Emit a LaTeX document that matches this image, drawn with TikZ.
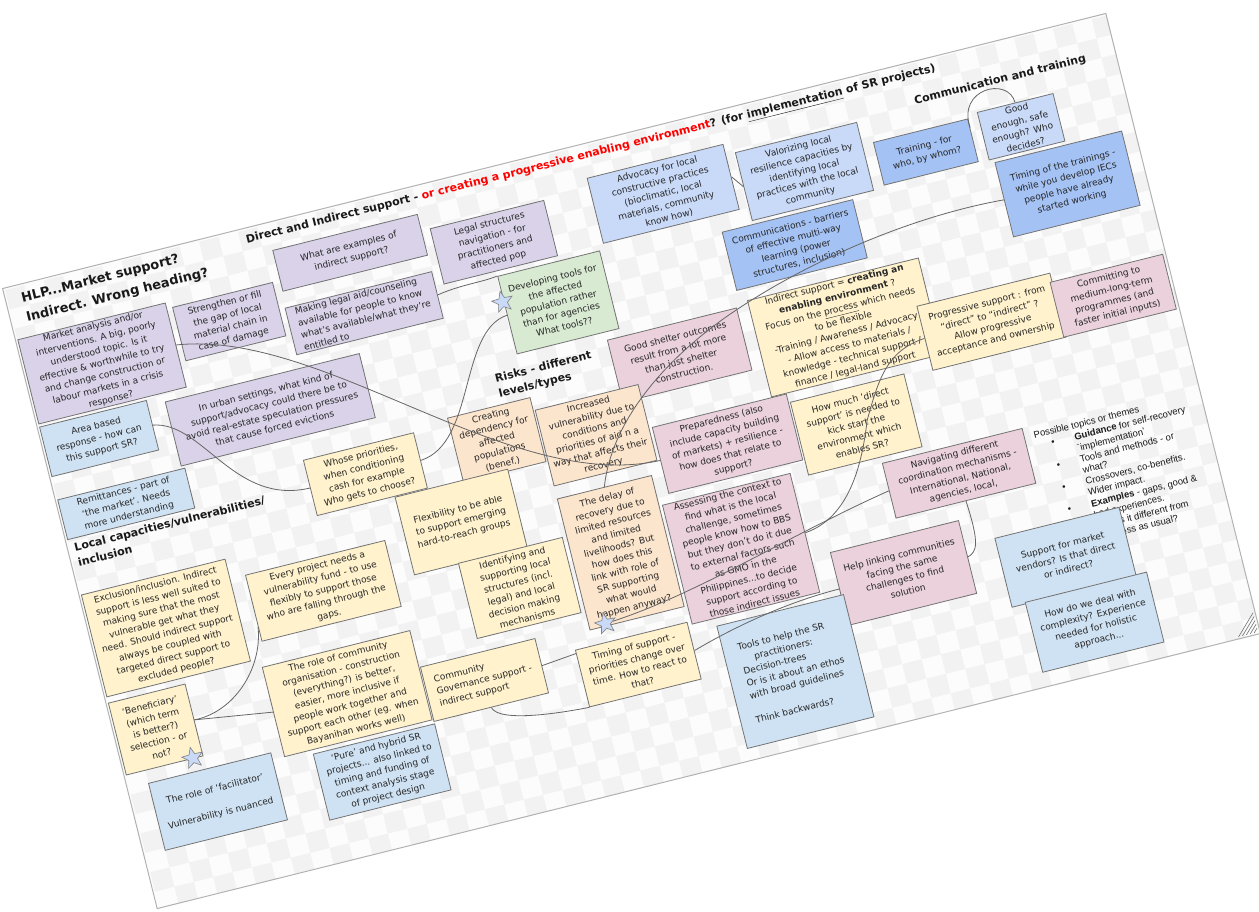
\documentclass[tikz,border=0pt]{standalone}
\usepackage{fontspec}
\setmainfont{DejaVu Sans}
\newfontfamily\topicfont{Liberation Sans}
\usetikzlibrary{shapes.geometric}
\definecolor{noteLilac}{HTML}{D9D2E9}
\definecolor{noteSky}{HTML}{CFE2F3}
\definecolor{noteBlue}{HTML}{C9DAF8}
\definecolor{noteDeep}{HTML}{A4C2F4}
\definecolor{notePink}{HTML}{EAD1DC}
\definecolor{noteSand}{HTML}{FFF2CC}
\definecolor{notePeach}{HTML}{FCE5CD}
\definecolor{noteMint}{HTML}{D9EAD3}

\begin{document}
\begin{tikzpicture}[x=1pt,y=-1pt]
	\tikzstyle{note} = [rectangle, anchor=north west, transform shape, draw=black!55, line width=0.8pt, inner sep=1.5pt, align=center, text=black!85, font=\fontsize{9}{12.5}\selectfont]
	\tikzstyle{lilac} = [note, fill=noteLilac]
	\tikzstyle{sky} = [note, fill=noteSky]
	\tikzstyle{blue} = [note, fill=noteBlue]
	\tikzstyle{deep} = [note, fill=noteDeep]
	\tikzstyle{pink} = [note, fill=notePink]
	\tikzstyle{sand} = [note, fill=noteSand]
	\tikzstyle{peach} = [note, fill=notePeach]
	\tikzstyle{mint} = [note, fill=noteMint]
	\tikzstyle{heading} = [anchor=north west, transform shape, inner sep=0pt, align=left, text=black!90]
	\tikzstyle{starMark} = [star, star points=5, star point ratio=2.3, minimum size=22pt, inner sep=0pt, fill=noteBlue, draw=black!50, line width=0.6pt, transform shape]
	\tikzstyle{link} = [draw=black!60, line width=0.8pt]
	\useasboundingbox (0,0) rectangle (1259,911);
	\fill[white] (0,0) rectangle (1259,911);
	\begin{scope}[shift={(5,290)}, rotate=14]
	% board
	\fill[black!1] (-2,-2) rectangle (1135,637);
	\begin{scope}
		\clip (-2,-2) rectangle (1135,637);
		\foreach \i in {0,40,...,1120}
			\foreach \j in {0,40,...,620}
				\fill[black!5] (\i,\j) rectangle ++(20,20) (\i+20,\j+20) rectangle ++(20,20);
	\end{scope}
	\draw[black!30, line width=1pt] (-2,-2) rectangle (1135,637);
	\foreach \k in {4,8,...,20}
		\draw[black!55, line width=0.6pt] (1133-\k,635) -- (1133,635-\k);

	% headings
	\node[heading, font=\fontsize{13}{20}\selectfont\bfseries] (hlpHeading) at (14,6) {HLP...Market support?\\Indirect. Wrong heading?};
	\node[heading, anchor=base west, font=\fontsize{11}{13}\selectfont\bfseries] (mainHeading) at (246,13) {Direct and Indirect support - \textcolor{red}{or creating a progressive enabling environment}? (for \underline{implementation} of SR projects)};
	\node[heading, anchor=base west, font=\fontsize{11}{13}\selectfont\bfseries] (commHeading) at (928,40) {Communication and training};
	\node[heading, font=\fontsize{11}{15.5}\selectfont\bfseries] (risksHeading) at (454,200) {Risks - different\\levels/types};
	\node[heading, font=\fontsize{11}{15.5}\selectfont\bfseries] (localHeading) at (5,262) {Local capacities/vulnerabilities/\\inclusion};
	\node[heading, font=\topicfont\fontsize{9.5}{11.5}\selectfont] (topicList) at (963,386) {Possible topics or themes\\
		\hspace*{15pt}\makebox[24pt][l]{\textbullet}\textbf{Guidance} for self-recovery\\
		\hspace*{39pt}`implementation'\\
		\hspace*{15pt}\makebox[24pt][l]{\textbullet}Tools and methods - or\\
		\hspace*{39pt}what?\\
		\hspace*{15pt}\makebox[24pt][l]{\textbullet}Crossovers, co-benefits.\\
		\hspace*{39pt}Wider impact.\\
		\hspace*{15pt}\makebox[24pt][l]{\textbullet}\textbf{Examples} - gaps, good \&\\
		\hspace*{39pt}bad experiences.\\
		\hspace*{39pt}How is it different from\\
		\hspace*{39pt}business as usual?};

	% market and legal notes
	\node[lilac, minimum width=152, minimum height=84] (marketAnalysis) at (0,51) {Market analysis and/or\\interventions. A big, poorly\\understood topic. Is it\\effective \& worthwhile to try\\and change construction or\\labour markets in a crisis\\response?};
	\node[lilac, minimum width=103, minimum height=55] (strengthenGap) at (158,57) {Strengthen or fill\\the gap of local\\material chain in\\case of damage};
	\node[lilac, minimum width=149, minimum height=42] (indirectExamples) at (269,26) {What are examples of\\indirect support?};
	\node[lilac, minimum width=117, minimum height=57] (legalStructures) at (427,43) {Legal structures\\navigation - for\\practitioners and\\affected pop};
	\node[lilac, minimum width=151, minimum height=48, align=left] (legalAid) at (267,85) {Making legal aid/counseling\\available for people to know\\what's available/what they're\\entitled to};
	\node[lilac, minimum width=200, minimum height=66] (urbanEvictions) at (128,147) {In urban settings, what kind of\\support/advocacy could there be to\\avoid real-estate speculation pressures\\that cause forced evictions};
	\node[mint, minimum width=105, minimum height=80] (developingTools) at (481,105.5) {Developing tools for\\the affected\\population rather\\than for agencies\\What tools??};
	\node[sky, minimum width=110, minimum height=51] (areaBased) at (0,141) {Area based\\response - how can\\this support SR?};
	\node[sky, minimum width=131, minimum height=41] (remittances) at (0,216) {Remittances - part of\\`the market'. Needs\\more understanding};

	% communication and training
	\node[blue, minimum width=140, minimum height=67] (advocacy) at (591.5,32) {Advocacy for local\\constructive practices\\(bioclimatic, local\\materials, community\\know how)};
	\node[blue, minimum width=125, minimum height=70] (valorizing) at (741.5,43) {Valorizing local\\resilience capacities by\\identifying local\\practices with the local\\community};
	\node[deep, minimum width=134.5, minimum height=60] (communications) at (709.5,117) {Communications - barriers\\of effective multi-way\\learning (power\\structures, inclusion)};
	\node[deep, minimum width=97, minimum height=44] (training) at (878,66.5) {Training - for\\who, by whom?};
	\node[blue, minimum width=78, minimum height=49] (goodEnough) at (986,62.5) {Good\\enough, safe\\enough? Who\\decides?};
	\node[deep, minimum width=130.5, minimum height=76.5] (trainingTiming) at (991,115.5) {Timing of the trainings -\\while you develop IECs\\people have already\\started working};

	% enabling environment
	\node[sand, minimum width=176, minimum height=94] (enablingEnv) at (717.5,189.5) {Indirect support = \textbf{creating an}\\\textbf{enabling environment} ?\\Focus on the \underline{process} which needs\\to be flexible\\-Training / Awareness / Advocacy\\- Allow access to materials /\\knowledge - technical support /\\finance / legal-land support};
	\node[sand, minimum width=137, minimum height=66] (progressive) at (880.5,236) {Progressive support : from\\``direct'' to ``indirect'' ?\\Allow progressive\\acceptance and ownership};
	\node[pink, minimum width=116, minimum height=56.5] (longTerm) at (1015.5,245) {Committing to\\medium-long-term\\programmes (and\\faster initial inputs)};
	\node[pink, minimum width=133, minimum height=64] (goodShelter) at (572,194) {Good shelter outcomes\\result from a lot more\\than just shelter\\construction.};
	\node[pink, minimum width=138, minimum height=68] (preparedness) at (594.5,289.5) {Preparedness (also\\include capacity building\\of markets) + resilience -\\how does that relate to\\support?};
	\node[sand, minimum width=117, minimum height=75] (directSupport) at (734.5,298.5) {How much `direct\\support' is needed to\\kick start the\\environment which\\enables SR?};
	\node[pink, minimum width=131.5, minimum height=120.5] (assessingContext) at (585.5,367.5) {Assessing the context to\\find what is the local\\challenge, sometimes\\people know how to BBS\\but they don't do it due\\to external factors such\\as GMO in the\\Philippines...to decide\\support according to\\those indirect issues};
	\node[pink, minimum width=144, minimum height=56.5] (coordination) at (809,380) {Navigating different\\coordination mechanisms -\\International, National,\\agencies, local,};
	\node[pink, minimum width=132, minimum height=75] (linkingCommunities) at (737,454) {Help linking communities\\facing the same\\challenges to find\\solution};
	\node[sky, minimum width=128, minimum height=71] (marketVendors) at (900,480) {Support for market\\vendors? Is that direct\\or indirect?};
	\node[sky, minimum width=125, minimum height=72] (complexity) at (914,549.5) {How do we deal with\\complexity? Experience\\needed for holistic\\approach...};

	% risks
	\node[peach, minimum width=85, minimum height=66] (dependency) at (398,231) {Creating\\dependency for\\affected\\populations\\(benef.)};
	\node[peach, minimum width=106, minimum height=78] (vulnerabilityRise) at (485,244.5) {Increased\\vulnerability due to\\conditions and\\priorities of aid n a\\way that affects their\\recovery};
	\node[peach, minimum width=97, minimum height=135] (recoveryDelay) at (485,336) {The delay of\\recovery due to\\limited resources\\and limited\\livelihoods? But\\how does this\\link with role of\\SR supporting\\what would\\happen anyway?};

	% local capacities
	\node[sand, minimum width=113.5, minimum height=57] (whosePriorities) at (248,237) {Whose priorities,\\when conditioning\\cash for example\\Who gets to choose?};
	\node[sand, minimum width=116, minimum height=80] (flexibility) at (328,295) {Flexibility to be able\\to support emerging\\hard-to-reach groups};
	\node[sand, minimum width=143.5, minimum height=68] (vulnerabilityFund) at (164,334.5) {Every project needs a\\vulnerability fund - to use\\flexibly to support those\\who are falling through the\\gaps.};
	\node[sand, minimum width=107, minimum height=77.5] (localStructures) at (373.5,374.5) {Identifying and\\supporting local\\structures (incl.\\legal) and local\\decision making\\mechanisms};
	\node[sand, minimum width=148, minimum height=105] (exclusion) at (0,314) {Exclusion/inclusion. Indirect\\support is less well suited to\\making sure that the most\\vulnerable get what they\\need. Should indirect support\\always be coupled with\\targeted direct support to\\excluded people?};
	\node[sand, minimum width=79, minimum height=74] (beneficiary) at (0,425.5) {`Beneficiary'\\(which term\\is better?)\\selection - or\\not?};
	\node[sky, minimum width=126, minimum height=69] (facilitator) at (19.5,513) {The role of `facilitator'\\[12.5pt]Vulnerability is nuanced};
	\node[sky, minimum width=125, minimum height=68] (pureHybrid) at (186.5,524.5) {`Pure' and hybrid SR\\projects... also linked to\\timing and funding of\\context analysis stage\\of project design};
	\node[sand, minimum width=152, minimum height=92] (communityRole) at (158,428) {The role of community\\organisation - construction\\(everything?) is better,\\easier, more inclusive if\\people work together and\\support each other (eg. when\\Bayanihan works well)};
	\node[sand, minimum width=118, minimum height=56, align=left] (communityGov) at (311.5,466) {Community\\Governance support -\\indirect support};
	\node[sand, minimum width=115, minimum height=58.5] (supportTiming) at (466,487) {Timing of support -\\priorities change over\\time. How to react to\\that?};
	\node[sky, minimum width=130.5, minimum height=126, align=left] (toolsPractitioners) at (609,498) {Tools to help the SR\\\hspace*{14pt}practitioners:\\Decision-trees\\Or is it about an ethos\\with broad guidelines\\[12.5pt]Think backwards?};

	% connectors
	\draw[link] (marketAnalysis.east) .. controls (300,115) and (440,320) .. (preparedness.west);
	\draw[link] (areaBased.east) .. controls (160,175) and (170,265) .. (whosePriorities.west);
	\draw[link] (whosePriorities.east) .. controls (420,262) and (430,150) .. (developingTools.west);
	\draw[link] (legalAid.east) .. controls (445,105) and (465,108) .. (developingTools.north west);
	\draw[link] (trainingTiming.west) .. controls (900,148) and (790,165) .. (700,198) .. controls (640,220) and (560,265) .. (recoveryDelay.north);
	\draw[link] (communityGov.east) -- (supportTiming.156);
	\draw[link] (communityGov.south) .. controls (375,540) and (440,545) .. (supportTiming.south west);
	\draw[link] (supportTiming.east) .. controls (620,505) and (680,492) .. (linkingCommunities.west);
	\draw[link] (coordination.south) .. controls +(3,45) and +(10,-3) .. (linkingCommunities.east);
	\draw[link] (training.15) .. controls (972,35) and (1025,35) .. (goodEnough.north);
	\draw[link] (advocacy.east) -- (valorizing.west);
	\draw[link] (progressive.west) .. controls (840,272) and (825,300) .. (805,335) .. controls (790,375) and (765,425) .. (assessingContext.east);
	\draw[link] (vulnerabilityFund.195) .. controls (158,430) and (120,465) .. (beneficiary.east);
	\draw[link] (beneficiary.east) -- (communityRole.west);

	% stars
	\node[starMark] (starTools) at (480,132) {};
	\node[starMark] (starDelay) at (502,469) {};
	\node[starMark] (starBenef) at (69,499.5) {};
	\draw[link] (starDelay) .. controls (600,462) and (700,428) .. (coordination.west);
	\end{scope}
\end{tikzpicture}
\end{document}
